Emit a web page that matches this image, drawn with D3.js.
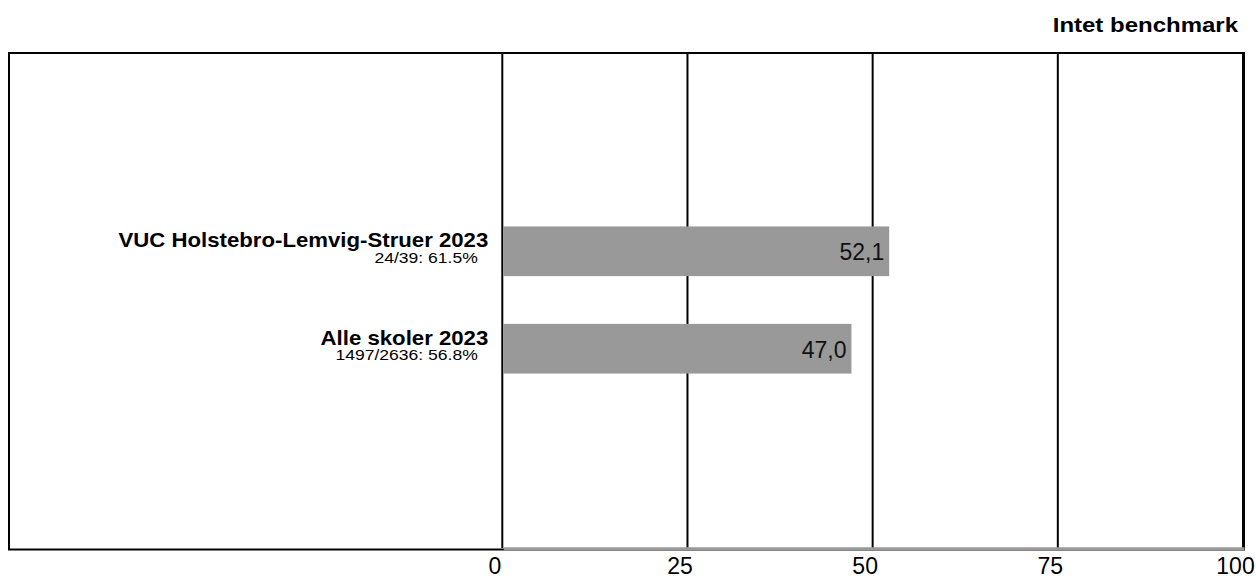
<!DOCTYPE html>
<html>
<head>
<meta charset="utf-8">
<script src="https://cdn.jsdelivr.net/npm/d3@7"></script>
<style>
  body { margin: 0; background: #fff; }
  svg { display: block; font-family: "Liberation Sans", Arial, sans-serif; }
</style>
</head>
<body>
<svg width="1256" height="576"></svg>
<script>
// data
var categories = ["VUC Holstebro-Lemvig-Struer 2023", "Alle skoler 2023"];
var subLabels = ["24/39: 61.5%", "1497/2636: 56.8%"];
var values = [52.1, 47.0];
var tickValues = [0, 25, 50, 75, 100];
var title = "Intet benchmark";

var svg = d3.select("svg"),
	frame = {left: 9, right: 1244, top: 53, bottom: 549.5},
	x = d3.scaleLinear().domain([0, 100]).range([503.3, 1244]),
	y = d3.scaleBand().domain(categories).range([52, 548]).paddingInner(0.49).paddingOuter(1.79);

var data = categories.map(function(c, i){
	return {name: c, sub: subLabels[i], value: values[i]};
});

var fmt = function(v){ return d3.format(".1f")(v).replace(".", ","); };

// title (top right)
svg.append("text")
	.attr("transform", "translate(1238,32) scale(1.2,1)")
	.attr("text-anchor", "end")
	.style("font-size", "20px")
	.style("font-weight", "bold")
	.text(title);

// frame
svg.append("rect")
	.attr("x", frame.left)
	.attr("y", frame.top)
	.attr("width", frame.right - frame.left)
	.attr("height", frame.bottom - frame.top)
	.attr("fill", "none")
	.attr("stroke", "#000")
	.attr("stroke-width", 2);

// gridlines
svg.selectAll(".grid")
	.data(tickValues)
	.enter().append("line")
	.attr("class", "grid")
	.attr("x1", function(d){ return x(d) - 1; })
	.attr("x2", function(d){ return x(d) - 1; })
	.attr("y1", frame.top)
	.attr("y2", 548)
	.attr("stroke", "#000")
	.attr("stroke-width", 2);

// bars
var bars = svg.selectAll(".bar")
	.data(data)
	.enter().append("g")
	.attr("class", "bar");

bars.append("rect")
	.attr("x", x(0))
	.attr("y", function(d){ return y(d.name); })
	.attr("width", function(d){ return x(d.value) - x(0); })
	.attr("height", y.bandwidth())
	.attr("fill", "#999999");

bars.append("text")
	.attr("x", function(d){ return x(d.value) - 5; })
	.attr("y", function(d){ return y(d.name) + y.bandwidth()/2 + 9; })
	.attr("text-anchor", "end")
	.style("font-size", "23px")
	.attr("fill", "#111")
	.text(function(d){ return fmt(d.value); });

// category labels
bars.append("text")
	.attr("transform", function(d){
		return "translate(" + (x(0) - 15) + "," + (y(d.name) + y.bandwidth()/2 - 4) + ") scale(1.11,1)";
	})
	.attr("text-anchor", "end")
	.style("font-size", "20px")
	.style("font-weight", "bold")
	.text(function(d){ return d.name; });

bars.append("text")
	.attr("transform", function(d){
		return "translate(" + (x(0) - 25.5) + "," + (y(d.name) + y.bandwidth()/2 + 11.5) + ") scale(1.17,1)";
	})
	.attr("text-anchor", "end")
	.style("font-size", "15px")
	.text(function(d){ return d.sub; });

// x axis
var axis = svg.append("g")
	.attr("class", "axis axis--x")
	.attr("transform", "translate(0,548.3)")
	.call(d3.axisBottom(x).tickValues(tickValues).tickSize(0).tickPadding(9.5));

axis.select(".domain")
	.attr("stroke", "#999999")
	.attr("stroke-width", 3);

axis.selectAll("text")
	.attr("dx", -9)
	.attr("fill", "#000")
	.style("font-size", "23px")
	.style("font-family", "'Liberation Sans', Arial, sans-serif");
</script>
</body>
</html>
